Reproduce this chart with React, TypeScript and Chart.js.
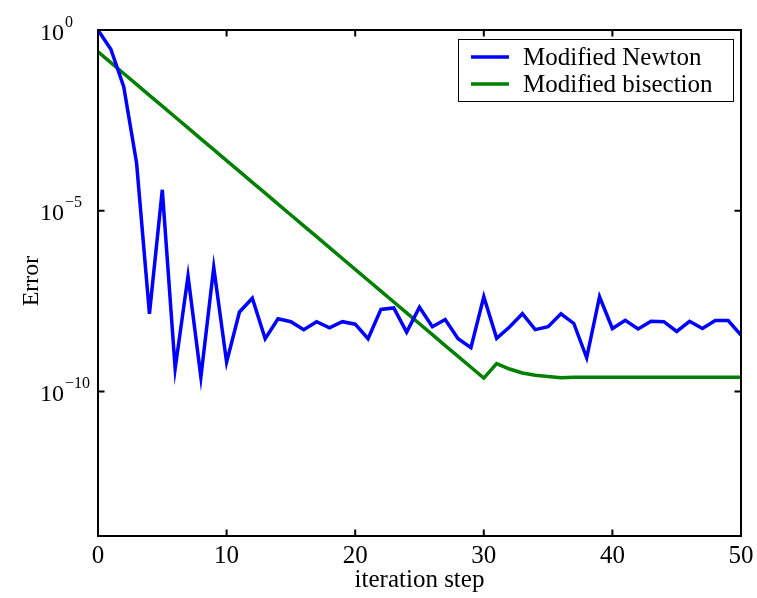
import React, { useEffect, useRef } from "react";
import { Chart, registerables } from "chart.js";

Chart.register(...registerables);

const steps = [0,1,2,3,4,5,6,7,8,9,10,11,12,13,14,15,16,17,18,19,20,21,22,23,24,25,26,27,28,29,30,31,32,33,34,35,36,37,38,39,40,41,42,43,44,45,46,47,48,49,50];

const newtonError = [
  1, 0.295, 0.0269, 2.09e-4, 1.41e-8, 3.8e-5, 4.27e-10, 1.55e-7, 2.51e-10, 2.69e-7,
  6.46e-10, 1.58e-8, 3.8e-8, 2.88e-9, 1.02e-8, 8.51e-9, 5.13e-9, 8.51e-9, 5.75e-9, 8.51e-9,
  7.24e-9, 2.88e-9, 1.86e-8, 2.04e-8, 4.37e-9, 2.14e-8, 6.17e-9, 9.77e-9, 2.88e-9, 1.62e-9,
  4.17e-8, 2.95e-9, 6.03e-9, 1.41e-8, 5.13e-9, 6.17e-9, 1.41e-8, 7.59e-9, 8.51e-10, 4.17e-8,
  5.5e-9, 9.33e-9, 5.37e-9, 8.71e-9, 8.51e-9, 4.57e-9, 8.71e-9, 5.5e-9, 9.12e-9, 9.12e-9,
  3.63e-9,
];

const bisectionError = [
  0.25, 0.125, 0.0625, 0.03125, 0.0156, 7.81e-3, 3.91e-3, 1.95e-3, 9.77e-4, 4.88e-4,
  2.44e-4, 1.22e-4, 6.1e-5, 3.05e-5, 1.53e-5, 7.63e-6, 3.81e-6, 1.91e-6, 9.54e-7, 4.77e-7,
  2.38e-7, 1.19e-7, 5.96e-8, 2.98e-8, 1.49e-8, 7.45e-9, 3.73e-9, 1.86e-9, 9.31e-10, 4.66e-10,
  2.33e-10, 5.89e-10, 4.17e-10, 3.24e-10, 2.82e-10, 2.57e-10, 2.4e-10, 2.48e-10, 2.48e-10, 2.48e-10,
  2.48e-10, 2.48e-10, 2.48e-10, 2.48e-10, 2.48e-10, 2.48e-10, 2.48e-10, 2.48e-10, 2.48e-10, 2.48e-10,
  2.48e-10,
];

const xTicks = [0, 10, 20, 30, 40, 50];
const yTicks = [1, 1e-5, 1e-10];
const yTickExponents = ["0", "\u22125", "\u221210"];
const seriesNames = ["Modified Newton", "Modified bisection"];
const seriesColors = ["#0000ff", "#008000"];
const xTitle = "iteration step";
const yTitle = "Error";

const FONT = "'Liberation Serif', 'Times New Roman', serif";

const framePlugin = {
  id: "matlabFrame",
  afterDraw(chart: any) {
    const { ctx, chartArea } = chart;
    const { left, right, top, bottom } = chartArea;
    const xs = chart.scales.x;
    const ys = chart.scales.y;
    ctx.save();
    ctx.strokeStyle = "#000";
    ctx.lineWidth = 2;
    ctx.strokeRect(left, top, right - left, bottom - top);

    const tl = 6.5;
    ctx.beginPath();
    for (const v of xTicks) {
      const px = xs.getPixelForValue(v);
      ctx.moveTo(px, bottom);
      ctx.lineTo(px, bottom - tl);
      ctx.moveTo(px, top);
      ctx.lineTo(px, top + tl);
    }
    for (const v of yTicks) {
      const py = ys.getPixelForValue(v);
      ctx.moveTo(left, py);
      ctx.lineTo(left + tl, py);
      ctx.moveTo(right, py);
      ctx.lineTo(right - tl, py);
    }
    ctx.stroke();

    ctx.fillStyle = "#000";
    // x tick labels
    ctx.font = `25px ${FONT}`;
    ctx.textAlign = "center";
    ctx.textBaseline = "alphabetic";
    for (const v of xTicks) {
      ctx.fillText(String(v), xs.getPixelForValue(v), 563);
    }
    // y tick labels with superscripts
    yTicks.forEach((v, i) => {
      const py = ys.getPixelForValue(v);
      ctx.font = `24px ${FONT}`;
      ctx.textAlign = "left";
      ctx.fillText("10", 40, py + 9.5);
      const w = ctx.measureText("10").width;
      ctx.font = `16px ${FONT}`;
      ctx.fillText(yTickExponents[i], 40 + w + 1, py - 3.5);
    });
    // axis titles
    ctx.font = `25px ${FONT}`;
    ctx.textAlign = "center";
    ctx.fillText(xTitle, (left + right) / 2, 587);
    ctx.save();
    ctx.translate(38, 281);
    ctx.rotate(-Math.PI / 2);
    ctx.font = `24px ${FONT}`;
    ctx.fillText(yTitle, 0, 0);
    ctx.restore();

    // legend
    const bx = 458, by = 39, bw = 275, bh = 62;
    ctx.fillStyle = "#fff";
    ctx.fillRect(bx, by, bw, bh);
    ctx.strokeStyle = "#000";
    ctx.lineWidth = 1;
    ctx.strokeRect(bx + 0.5, by + 0.5, bw, bh);
    const rows = [57, 84];
    seriesNames.forEach((name, i) => {
      ctx.strokeStyle = seriesColors[i];
      ctx.lineWidth = 3.5;
      ctx.beginPath();
      ctx.moveTo(471, rows[i]);
      ctx.lineTo(509, rows[i]);
      ctx.stroke();
      ctx.fillStyle = "#000";
      ctx.font = `25px ${FONT}`;
      ctx.textAlign = "left";
      ctx.textBaseline = "middle";
      ctx.fillText(name, 523, rows[i] + 1);
    });
    ctx.restore();
  },
};

export default function App() {
  const ref = useRef<HTMLCanvasElement>(null);
  useEffect(() => {
    if (!ref.current) return;
    const chart = new Chart(ref.current, {
      type: "line",
      data: {
        datasets: [
          {
            label: seriesNames[0],
            data: steps.map((s, i) => ({ x: s, y: newtonError[i] })),
            borderColor: seriesColors[0],
            backgroundColor: seriesColors[0],
            borderWidth: 3.5,
            pointRadius: 0,
            tension: 0,
          },
          {
            label: seriesNames[1],
            data: steps.map((s, i) => ({ x: s, y: bisectionError[i] })),
            borderColor: seriesColors[1],
            backgroundColor: seriesColors[1],
            borderWidth: 3.5,
            pointRadius: 0,
            tension: 0,
          },
        ],
      },
      options: {
        animation: false,
        responsive: false,
        devicePixelRatio: 1,
        layout: { padding: { left: 98, top: 30, right: 16, bottom: 62 } },
        plugins: { legend: { display: false }, tooltip: { enabled: false }, title: { display: false } },
        scales: {
          x: { type: "linear", min: 0, max: 50, display: false },
          y: { type: "logarithmic", min: 1e-14, max: 1, display: false },
        },
      },
      plugins: [framePlugin],
    } as any);
    return () => chart.destroy();
  }, []);
  return (
    <div style={{ position: "fixed", left: 0, top: 0, width: 757, height: 598, background: "#fff" }}>
      <canvas ref={ref} width={757} height={598} style={{ width: 757, height: 598, display: "block" }} />
    </div>
  );
}
